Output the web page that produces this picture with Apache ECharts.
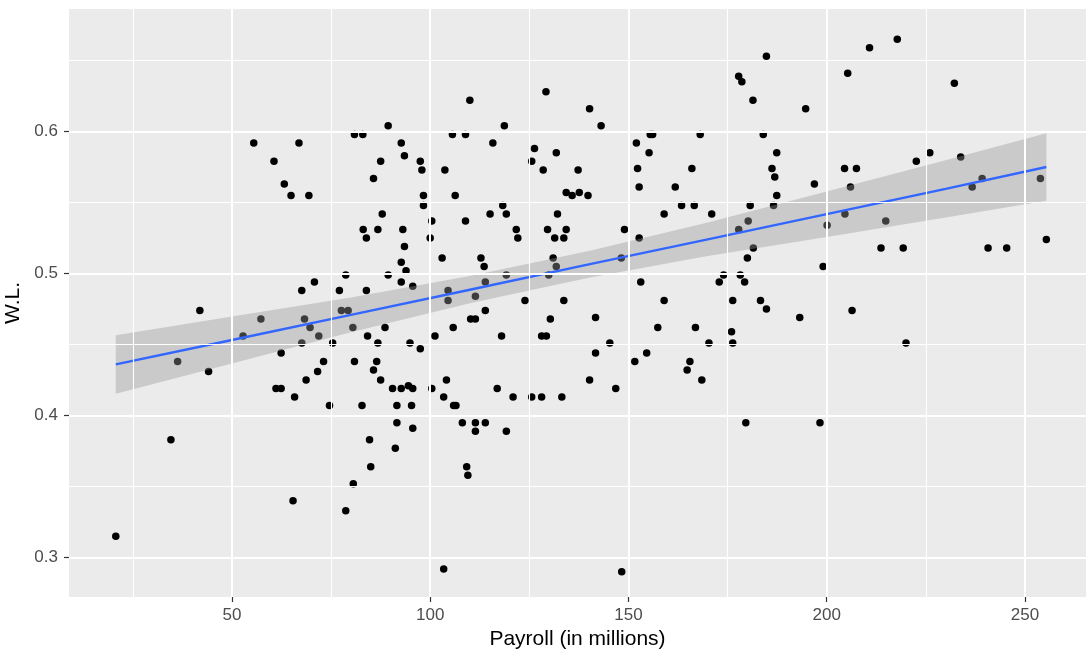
<!DOCTYPE html>
<html>
<head>
<meta charset="utf-8">
<script src="https://cdn.jsdelivr.net/npm/echarts@6/dist/echarts.min.js"></script>
<style>
html,body{margin:0;padding:0;background:#fff;}
#chart{width:1086px;height:654px;}
</style>
</head>
<body>
<div id="chart"></div>
<script>
// Team payroll (millions) and win-loss fraction
const payroll = [
55.5,66.9,60.6,63.2,64.9,69.4,41.9,67.6,70.8,77.1,57.3,68.3,69.7,71.9,52.8,
36.3,44.1,62.4,67.6,75.4,73.1,71.6,68.7,61.1,62.4,65.8,74.6,34.6,65.4,20.7,
80.9,83.0,89.4,92.7,93.5,87.5,85.7,97.5,97.9,98.3,98.3,87.9,83.1,83.9,86.8,
93.1,93.5,92.7,93.9,89.4,78.7,83.9,92.7,95.6,77.6,79.3,80.5,88.6,100.4,100.0,
103.7,105.6,108.9,110.0,106.3,108.9,103.0,104.5,104.5,105.8,110.2,111.4,111.4,113.9,113.9,
112.8,113.6,115.1,115.8,118.7,118.3,119.2,121.7,122.1,119.2,123.9,129.2,125.6,126.3,128.5,
131.8,137.3,134.3,135.8,137.6,139.8,132.1,129.6,131.4,133.7,134.3,131.0,131.8,129.9,133.7,
130.3,140.2,84.2,86.8,94.9,97.5,101.2,118.0,128.1,129.3,80.9,86.5,85.7,87.5,90.5,
92.7,94.5,95.6,100.4,104.1,103.4,105.9,106.5,82.8,91.6,95.3,91.6,95.6,84.7,91.2,
85.0,80.6,78.7,103.4,108.1,111.4,113.9,111.4,119.2,109.2,109.5,116.9,120.9,125.6,128.1,
133.2,140.2,143.1,152.0,155.5,156.1,155.2,152.3,152.7,149.0,152.7,148.2,153.1,141.7,159.0,
159.0,161.8,163.4,166.6,166.0,168.1,171.0,172.9,174.0,176.3,177.8,177.8,178.6,181.4,184.8,
184.0,187.4,186.2,186.9,187.4,186.6,180.7,180.2,181.5,180.0,178.2,179.3,183.3,184.8,193.2,
194.7,196.9,199.1,200.1,145.3,141.7,146.8,157.4,154.6,151.6,166.9,170.3,165.5,164.8,168.5,
176.0,176.3,179.6,198.3,148.3,210.8,217.8,205.3,232.2,222.6,226.0,233.8,204.5,207.5,206.0,
204.6,214.9,236.7,239.2,253.9,213.7,219.3,240.7,245.4,255.4,206.4,220.0
];
const winPct = [
0.592,0.592,0.579,0.563,0.555,0.555,0.474,0.488,0.494,0.488,0.468,0.468,0.462,0.456,0.456,
0.438,0.431,0.444,0.451,0.451,0.438,0.431,0.425,0.419,0.419,0.413,0.407,0.383,0.340,0.315,
0.598,0.598,0.604,0.592,0.583,0.579,0.567,0.579,0.573,0.555,0.548,0.542,0.531,0.525,0.531,
0.531,0.519,0.508,0.502,0.499,0.499,0.488,0.494,0.491,0.474,0.474,0.462,0.462,0.537,0.525,
0.573,0.598,0.598,0.622,0.555,0.537,0.511,0.488,0.481,0.462,0.468,0.468,0.484,0.474,0.494,
0.511,0.505,0.542,0.592,0.604,0.548,0.542,0.531,0.525,0.499,0.481,0.628,0.579,0.588,0.573,
0.585,0.573,0.557,0.555,0.557,0.555,0.542,0.531,0.525,0.525,0.531,0.511,0.505,0.499,0.481,
0.468,0.616,0.456,0.451,0.451,0.447,0.456,0.456,0.456,0.456,0.438,0.438,0.432,0.425,0.419,
0.419,0.421,0.419,0.419,0.425,0.413,0.407,0.407,0.407,0.407,0.407,0.395,0.391,0.383,0.377,
0.364,0.352,0.333,0.292,0.395,0.395,0.395,0.389,0.389,0.364,0.358,0.419,0.413,0.413,0.413,
0.413,0.425,0.604,0.592,0.598,0.598,0.585,0.574,0.561,0.531,0.525,0.511,0.494,0.469,0.481,
0.542,0.561,0.548,0.548,0.574,0.598,0.542,0.494,0.499,0.481,0.531,0.639,0.635,0.622,0.653,
0.598,0.585,0.574,0.568,0.555,0.548,0.548,0.537,0.518,0.511,0.499,0.494,0.481,0.475,0.469,
0.616,0.563,0.505,0.534,0.451,0.444,0.419,0.462,0.444,0.438,0.462,0.451,0.438,0.432,0.425,
0.459,0.451,0.395,0.395,0.290,0.659,0.665,0.641,0.634,0.579,0.585,0.582,0.574,0.574,0.561,
0.542,0.537,0.561,0.567,0.567,0.518,0.518,0.518,0.518,0.524,0.474,0.451
];
// Linear fit and its confidence band
const smoothX = [20.7, 50, 80, 110, 140, 170, 200, 230, 255.4];
const smoothFit = [0.436, 0.4532, 0.4709, 0.4886, 0.5064, 0.5241, 0.5418, 0.5596, 0.575];
const smoothLower = [0.4154, 0.4367, 0.4587, 0.4790, 0.4970, 0.5123, 0.5258, 0.5394, 0.5512];
const smoothUpper = [0.4566, 0.4697, 0.4831, 0.4982, 0.5158, 0.5359, 0.5578, 0.5798, 0.5988];
// Axis ticks and grid lines
const xMajor = [50, 100, 150, 200, 250];
const xMinor = [25, 75, 125, 175, 225];
const yMajor = [0.3, 0.4, 0.5, 0.6];
const yMinor = [0.35, 0.45, 0.55, 0.65];

const FONT = "'Liberation Sans', Arial, sans-serif";
const chart = echarts.init(document.getElementById('chart'), null, {renderer: 'canvas'});

const pts = payroll.map((x, i) => [x, winPct[i]]);
const fitPts = smoothX.map((x, i) => [x, smoothFit[i]]);
const bandRows = smoothX.map((x, i) => [x, smoothLower[i], smoothUpper[i]]);

const gridLines = []
  .concat(xMinor.map(v => ({xAxis: v, lineStyle: {width: 1.1}})))
  .concat(yMinor.map(v => ({yAxis: v, lineStyle: {width: 1.1}})))
  .concat(xMajor.map(v => ({xAxis: v, lineStyle: {width: 2}})))
  .concat(yMajor.map(v => ({yAxis: v, lineStyle: {width: 2}})));

chart.setOption({
  animation: false,
  backgroundColor: '#ffffff',
  textStyle: {fontFamily: FONT},
  grid: {
    left: 69, right: 0, top: 9, bottom: 57,
    containLabel: false, outerBoundsMode: 'none',
    show: true, backgroundColor: '#EBEBEB', borderWidth: 0
  },
  xAxis: {
    type: 'value', min: 8.9, max: 265.4,
    name: 'Payroll (in millions)', nameLocation: 'middle', nameGap: 31,
    nameTextStyle: {color: '#000', fontSize: 21, fontFamily: FONT},
    axisLine: {show: false},
    axisTick: {show: true, customValues: xMajor, length: 5, lineStyle: {color: '#333333', width: 1.2}},
    axisLabel: {customValues: xMajor, color: '#4D4D4D', fontSize: 17, margin: 10, fontFamily: FONT},
    splitLine: {show: false}
  },
  yAxis: {
    type: 'value', min: 0.2722, max: 0.6863,
    name: 'W.L.', nameLocation: 'middle', nameGap: 35, nameRotate: 90,
    nameTextStyle: {color: '#000', fontSize: 21, fontFamily: FONT},
    axisLine: {show: false},
    axisTick: {show: true, customValues: yMajor, length: 5, lineStyle: {color: '#333333', width: 1.2}},
    axisLabel: {customValues: yMajor, color: '#4D4D4D', fontSize: 17, margin: 11, fontFamily: FONT,
      formatter: v => Number(v).toFixed(1)},
    splitLine: {show: false}
  },
  series: [
    {
      type: 'line', name: 'gridlines', data: [], z: 1,
      symbol: 'none', silent: true,
      markLine: {
        silent: true, symbol: ['none', 'none'], label: {show: false},
        lineStyle: {color: '#ffffff', type: 'solid'},
        emphasis: {disabled: true},
        data: gridLines
      }
    },
    {
      type: 'scatter', name: 'teams', data: pts, z: 2,
      symbol: 'circle', symbolSize: 7.5, silent: true,
      itemStyle: {color: '#000000', opacity: 1}
    },
    {
      type: 'custom', name: 'band', data: bandRows, z: 3, silent: true,
      encode: {x: 0, y: [1, 2]},
      renderItem: function (params, api) {
        if (params.dataIndex !== 0) return null;
        const upper = bandRows.map(r => api.coord([r[0], r[2]]));
        const lower = bandRows.map(r => api.coord([r[0], r[1]])).reverse();
        return {
          type: 'polygon',
          shape: {points: upper.concat(lower)},
          style: {fill: 'rgba(153,153,153,0.4)', stroke: null}
        };
      }
    },
    {
      type: 'line', name: 'fit', data: fitPts, z: 4,
      symbol: 'none', silent: true,
      lineStyle: {color: '#3366FF', width: 2.4}
    }
  ]
});
</script>
</body>
</html>
